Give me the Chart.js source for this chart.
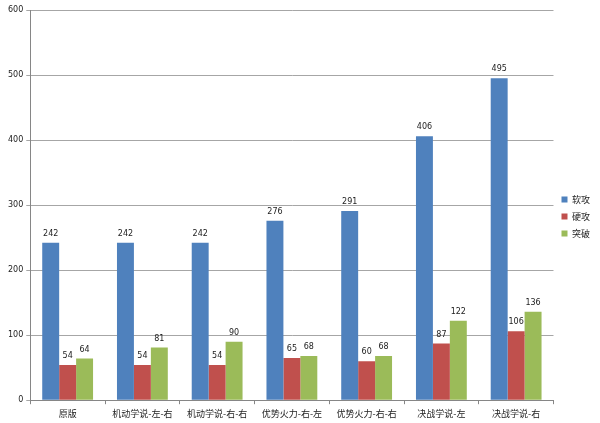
<!DOCTYPE html>
<html lang="zh-CN">
<head>
  <meta charset="UTF-8" />
  <title>战力对比</title>
  <script src="https://cdn.jsdelivr.net/npm/chart.js"></script>
  <style>
    html, body { margin: 0; padding: 0; background: #fff; }
    #wrap { width: 600px; height: 423px; }
  </style>
</head>
<body>
  <div id="wrap"><canvas id="grafico"></canvas></div>

  <script>
    const categorias = ['原版', '机动学说-左-右', '机动学说-右-右', '优势火力-右-左', '优势火力-右-右', '决战学说-左', '决战学说-右'];
    const ruangong = [242, 242, 242, 276, 291, 406, 495];
    const yinggong = [54, 54, 54, 65, 60, 87, 106];
    const tupo = [64, 81, 90, 68, 68, 122, 136];

    // valores em cima de cada barra
    const rotulos = {
      id: 'rotulos',
      afterDatasetsDraw(chart) {
        const ctx = chart.ctx;
        ctx.save();
        ctx.font = '8px "DejaVu Sans", sans-serif';
        ctx.fillStyle = '#222';
        ctx.textAlign = 'center';
        ctx.textBaseline = 'bottom';
        chart.data.datasets.forEach((ds, i) => {
          chart.getDatasetMeta(i).data.forEach((bar, j) => {
            ctx.fillText(ds.data[j], bar.x, bar.y - 5);
          });
        });
        ctx.restore();
      }
    };

    const ctx = document.getElementById('grafico').getContext('2d');
    new Chart(ctx, {
      type: 'bar',
      data: {
        labels: categorias,
        datasets: [
          { label: '软攻', data: ruangong, backgroundColor: '#4F81BD' },
          { label: '硬攻', data: yinggong, backgroundColor: '#C0504D' },
          { label: '突破', data: tupo, backgroundColor: '#9BBB59' }
        ]
      },
      plugins: [rotulos],
      options: {
        responsive: true,
        maintainAspectRatio: false,
        animation: false,
        layout: { padding: { top: 10, right: 0, bottom: 0, left: 5 } },
        datasets: { bar: { categoryPercentage: 0.68, barPercentage: 1.0 } },
        plugins: {
          legend: {
            position: 'right',
            labels: {
              boxWidth: 6,
              boxHeight: 6,
              padding: 8,
              color: '#222',
              font: { size: 9, family: '"Noto Sans CJK SC", sans-serif' }
            }
          },
          tooltip: { enabled: false }
        },
        scales: {
          y: {
            min: 0,
            max: 600,
            ticks: {
              stepSize: 100,
              color: '#222',
              padding: 3,
              font: { size: 8, family: '"DejaVu Sans", sans-serif' }
            },
            grid: { color: '#a6a6a6', tickLength: 4, lineWidth: 1 },
            border: { color: '#868686' }
          },
          x: {
            ticks: {
              color: '#222',
              padding: 4,
              font: { size: 9, family: '"Noto Sans CJK SC", sans-serif' }
            },
            grid: { drawOnChartArea: false, offset: true, tickLength: 4, color: '#868686' },
            border: { color: '#868686' }
          }
        }
      }
    });
  </script>
</body>
</html>
